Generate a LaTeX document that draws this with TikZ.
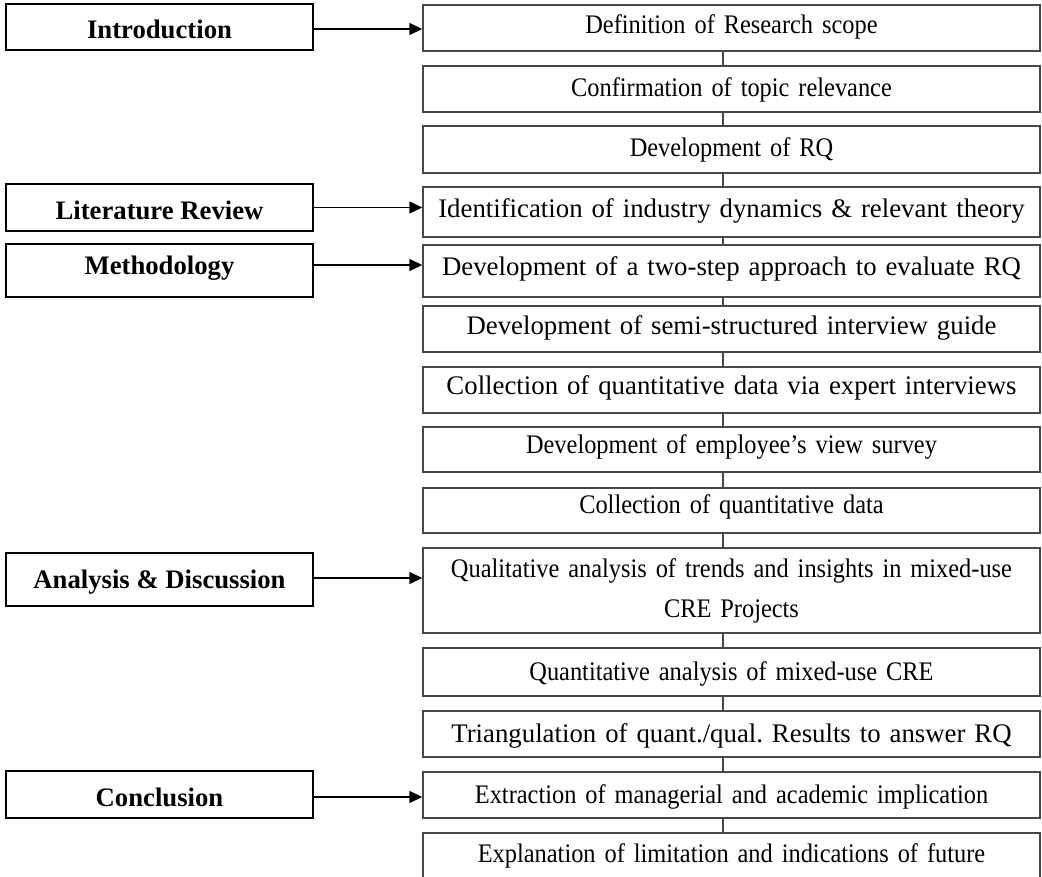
\documentclass[tikz,border=0pt]{standalone}
\usepackage{fontspec}
\setmainfont{Liberation Serif}
\newfontfamily\condserif[FakeStretch=0.91]{Liberation Serif}
\usetikzlibrary{arrows.meta}
\frenchspacing
\begin{document}
\begin{tikzpicture}[x=1pt,y=-1pt,
 stepbox/.style={draw=black!72, line width=1.4pt, minimum width=617pt, inner sep=0pt,
   font=\fontsize{26.8}{40}\condserif, align=center, text width=612pt},
 wide/.style={font=\fontsize{26.8}{40}\rmfamily},
 ty/.style={text height={23pt+(#1)*1pt}, text depth={7pt-(#1)*1pt}},
 phase/.style={draw=black, line width=2.8pt, minimum width=307pt, inner sep=0pt,
   font=\fontsize{26.7}{32}\selectfont\bfseries},
 py/.style={text height={24pt+(#1)*1pt}, text depth={6.3pt-(#1)*1pt}},
 link/.style={draw=black!72, line width=1.2pt},
 arr/.style={line width=1.4pt, -{Triangle[length=13pt,width=12pt]}}]
\useasboundingbox (0,0) rectangle (1042,876);
\fill[white] (0,0) rectangle (1042,876);
\begin{scope}
\clip (0,0) rectangle (1042,876);
% right column
\node[stepbox, ty=-3, minimum height=46pt] (r1)  at (731.5,28)    {Definition of Research scope};
\node[stepbox, ty=-1, minimum height=46pt] (r2)  at (731.5,89)    {Confirmation of topic relevance};
\node[stepbox, ty=-1, minimum height=47pt] (r3)  at (731.5,149.5) {Development of RQ};
\node[stepbox, wide, ty=-3, minimum height=50pt] (r4)  at (731.5,212)   {Identification of industry dynamics \& relevant theory};
\node[stepbox, wide, ty=-4, minimum height=52pt] (r5)  at (731.5,271)   {Development of a two-step approach to evaluate RQ};
\node[stepbox, wide, ty=-3, minimum height=46pt] (r6)  at (731.5,329)   {Development of semi-structured interview guide};
\node[stepbox, wide, ty=-4, minimum height=46pt] (r7)  at (731.5,390)   {Collection of quantitative data via expert interviews};
\node[stepbox, ty=-4, minimum height=45pt] (r8)  at (731.5,449.5) {Development of employee’s view survey};
\node[stepbox, ty=-5, minimum height=45pt] (r9)  at (731.5,510.5) {Collection of quantitative data};
\node[stepbox, minimum height=85pt] (r10) at (731.5,590.5) {Qualitative analysis of trends and insights in mixed-use\\CRE Projects};
\node[stepbox, ty=0, minimum height=48pt] (r11) at (731.5,672)   {Quantitative analysis of mixed-use CRE};
\node[stepbox, wide, ty=0, minimum height=46pt] (r12) at (731.5,734)   {Triangulation of quant./qual. Results to answer RQ};
\node[stepbox, ty=0, minimum height=46pt] (r13) at (731.5,795)   {Extraction of managerial and academic implication};
\node[stepbox, ty=-2, minimum height=46pt] (r14) at (731.5,856)   {Explanation of limitation and indications of future};
\foreach \a/\b in {r1/r2,r2/r3,r3/r4,r4/r5,r5/r6,r6/r7,r7/r8,r8/r9,r9/r10,r10/r11,r11/r12,r12/r13,r13/r14}
  \draw[link] ([xshift=-8.5pt]\a.south) -- ([xshift=-8.5pt]\b.north);
% left column
\node[phase, py=3, minimum height=46pt] (intro) at (159.5,27)    {Introduction};
\node[phase, py=3, minimum height=47pt] (lit)   at (159.5,207.5) {Literature Review};
\node[phase, py=-5, minimum height=53pt] (meth)  at (159.5,270.5) {Methodology};
\node[phase, py=0, minimum height=53pt] (ana)   at (159.5,579.5) {Analysis \& Discussion};
\node[phase, py=3, minimum height=47pt] (conc)  at (159.5,794.5) {Conclusion};
\draw[arr] ([yshift=-2pt]intro.east) -- ([yshift=-2pt]intro.east -| r1.west);
\draw[arr] (lit.east) -- (lit.east -| r4.west);
\draw[arr] ([yshift=5.5pt]meth.east) -- ([yshift=5.5pt]meth.east -| r5.west);
\draw[arr] ([yshift=1.5pt]ana.east) -- ([yshift=1.5pt]ana.east -| r10.west);
\draw[arr] ([yshift=-2.5pt]conc.east) -- ([yshift=-2.5pt]conc.east -| r13.west);
\end{scope}
\end{tikzpicture}
\end{document}
